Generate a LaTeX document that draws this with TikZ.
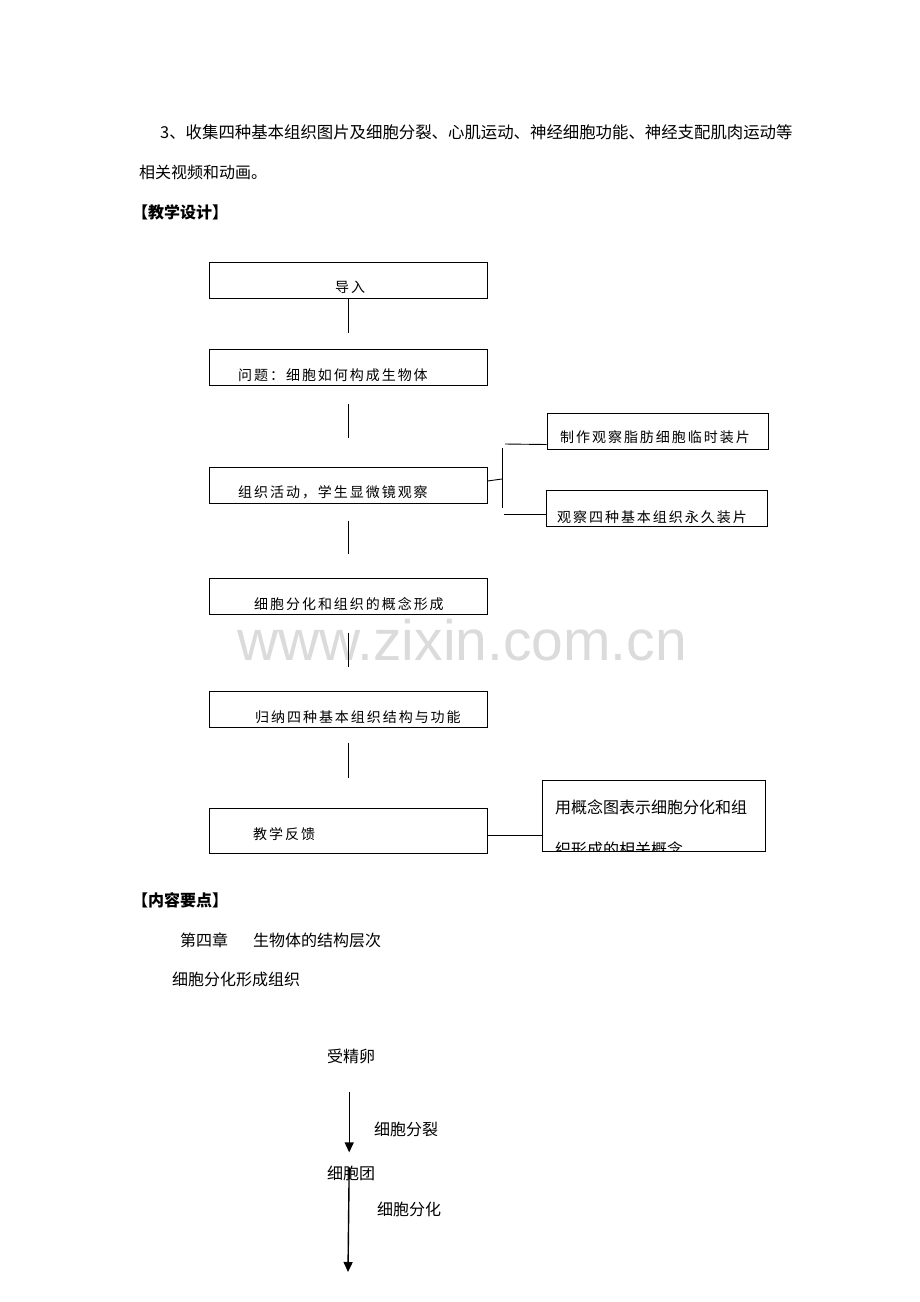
\documentclass[tikz,border=0pt]{standalone}
\usepackage{fontspec}
\setmainfont{Noto Sans CJK SC}
\newfontfamily\wmfont{Liberation Sans}
\usetikzlibrary{arrows.meta,positioning}

\begin{document}
\begin{tikzpicture}[x=1pt,y=-1pt]
    \tikzstyle{txt}=[inner sep=0pt, anchor=west, font=\fontsize{16}{16}\selectfont]
    \tikzstyle{head}=[txt, font=\fontsize{16}{16}\selectfont\bfseries]
    \tikzstyle{boxtxt}=[inner sep=0pt, anchor=west, font=\fontsize{14}{14}\selectfont\addfontfeature{LetterSpace=14}]
    \tikzstyle{stage}=[draw, line width=1pt, minimum width=278pt, minimum height=36pt, inner sep=0pt]
    \tikzstyle{side}=[draw, line width=1pt, minimum width=221pt, minimum height=36pt, inner sep=0pt]
    \tikzstyle{link}=[line width=0.9pt]
    \tikzstyle{flow}=[line width=1.4pt, -{Triangle[width=9pt,length=10pt]}]
    \useasboundingbox[fill=white] (0,0) rectangle (920,1302);
    % watermark
    \node[inner sep=0pt, anchor=base west, text=black!14, font=\fontsize{57}{57}\wmfont] (wm) at (237,660) {www.zixin.com.cn};
    % text above the plan
    \node[txt, font=\fontsize{16.4}{16}\selectfont] (intro1) at (160,132) {3、收集四种基本组织图片及细胞分裂、心肌运动、神经细胞功能、神经支配肌肉运动等};
    \node[txt] (intro2) at (139,172) {相关视频和动画。};
    \node[head] (design) at (132,212) {【教学设计】};
    % teaching plan
    \node[stage] (dao) at (348,280.5) {};
    \node[stage] (wenti) at (348,367) {};
    \node[stage] (huodong) at (348,485) {};
    \node[stage] (fenhua) at (348,596) {};
    \node[stage] (guina) at (348,709) {};
    \node[stage, minimum height=45pt] (fankui) at (348,830.5) {};
    \node[side] (zhizuo) at (657.5,431) {};
    \node[side] (yongjiu) at (656.5,508.5) {};
    \node[draw, line width=1pt, minimum width=223pt, minimum height=71pt, inner sep=0pt] (gainian) at (653.5,815.5) {};
    \node[boxtxt] (t-dao) at (335,287) {导入};
    \node[boxtxt] (t-wenti) at (238,375) {问题：细胞如何构成生物体};
    \node[boxtxt] (t-huodong) at (238,492) {组织活动，学生显微镜观察};
    \node[boxtxt] (t-fenhua) at (254,604) {细胞分化和组织的概念形成};
    \node[boxtxt] (t-guina) at (255,717) {归纳四种基本组织结构与功能};
    \node[boxtxt] (t-fankui) at (253,834) {教学反馈};
    \node[boxtxt] (t-zhizuo) at (560,437) {制作观察脂肪细胞临时装片};
    \node[boxtxt] (t-yongjiu) at (557,517) {观察四种基本组织永久装片};
    \node[txt] (t-gn1) at (555,807) {用概念图表示细胞分化和组};
    \begin{scope}
        \clip (gainian.north west) rectangle (gainian.south east);
        \node[txt] (t-gn2) at (555,849) {织形成的相关概念};
    \end{scope}
    \draw[link, shorten >=16pt] (dao) -- (wenti);
    \draw[link, shorten <=18pt, shorten >=29pt] (wenti) -- (huodong);
    \draw[link, shorten <=17pt, shorten >=24pt] (huodong) -- (fenhua);
    \draw[link, shorten <=18pt, shorten >=24pt] (fenhua) -- (guina);
    \draw[link, shorten <=15pt, shorten >=30pt] (guina) -- (fankui);
    \coordinate (bm) at (502,479);
    \coordinate (bt) at (502,448);
    \coordinate (bb) at (502,508);
    \coordinate (tl) at (505,444);
    \coordinate (bl) at (504,514);
    \draw[link] ([yshift=4pt]huodong.east) -- (bm);
    \draw[link] (bt) -- (bb);
    \draw[link] (tl) -- ([yshift=5pt]zhizuo.south west);
    \draw[link] (bl) -- ([yshift=-5.5pt]yongjiu.west);
    \draw[link] ([yshift=-4.5pt]fankui.east) -- ([yshift=-4.5pt]fankui.east -| gainian.west);
    % key points
    \node[head] (points) at (132,900) {【内容要点】};
    \node[txt] (chapter) at (180,940) {第四章};
    \node[txt] (title) at (253,940) {生物体的结构层次};
    \node[txt] (section) at (172,979) {细胞分化形成组织};
    \node[txt] (sjl) at (327,1056) {受精卵};
    \node[txt] (xbt) at (327,1173) {细胞团};
    \node[txt] (fenlie) at (374,1129) {细胞分裂};
    \node[txt] (fenhualbl) at (377,1209) {细胞分化};
    \coordinate (fhend) at (348,1272);
    \draw[flow, shorten <=28pt, shorten >=13pt] ([xshift=-2pt]sjl.south) -- ([xshift=-2pt]xbt.north);
    \draw[flow, shorten <=2pt] ([xshift=-2pt]xbt.north) -- (fhend);
\end{tikzpicture}
\end{document}
